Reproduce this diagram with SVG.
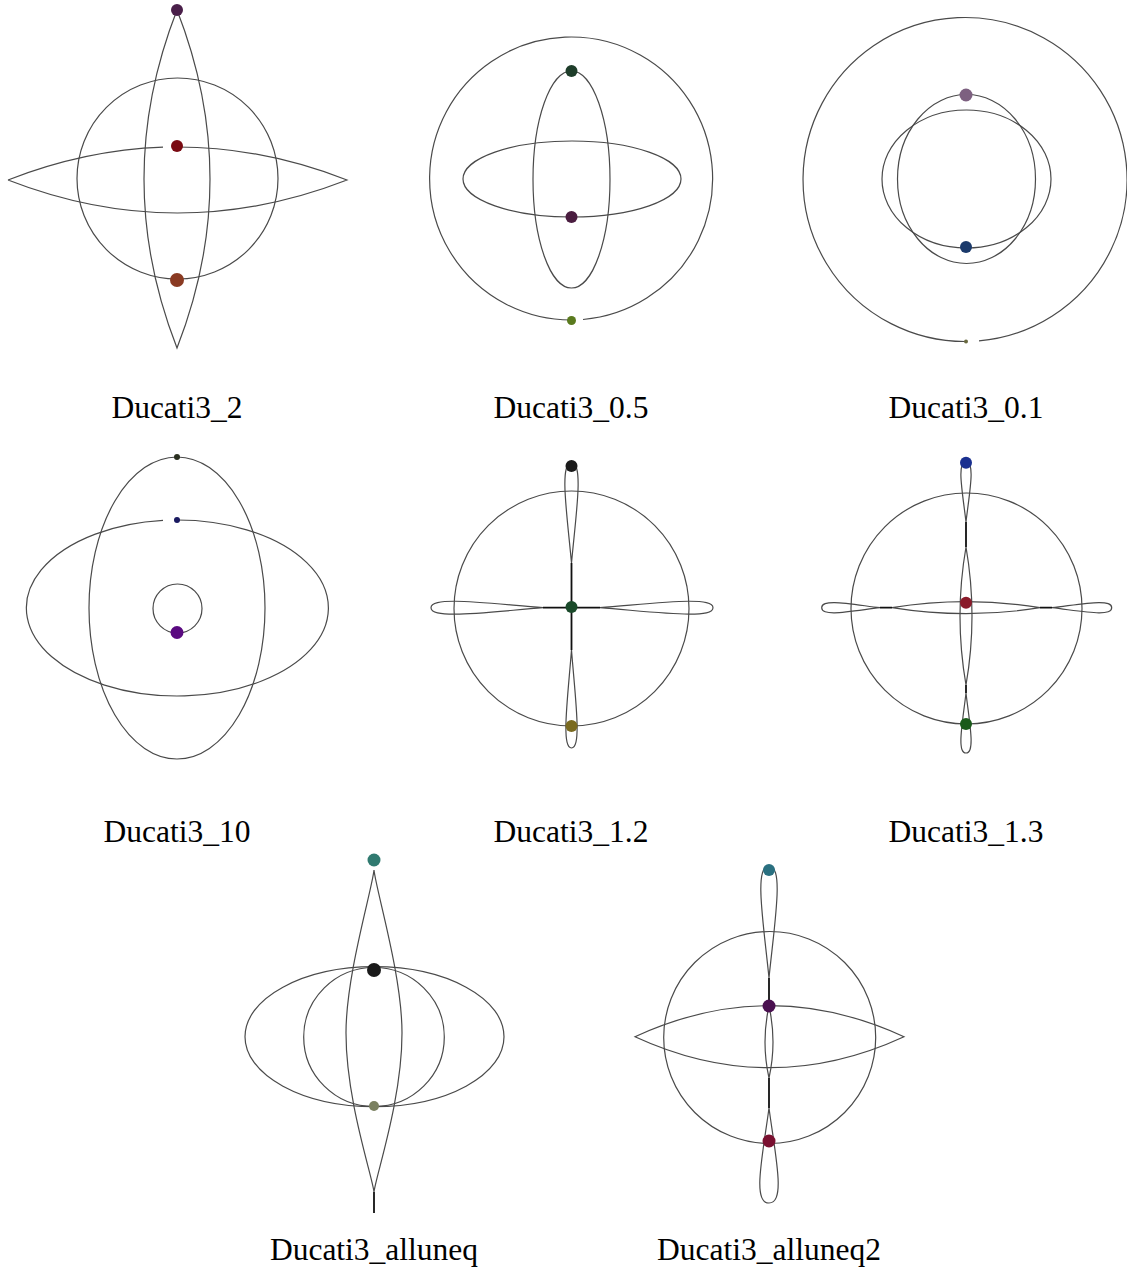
<svg xmlns="http://www.w3.org/2000/svg" width="1127" height="1281" viewBox="0 0 1127 1281">
<style>
.o{fill:none;stroke:#4a4a4a;stroke-width:1.2}
.k{fill:none;stroke:#111;stroke-width:1.8}
.lbl{font-family:"Liberation Serif","DejaVu Serif",serif;font-size:31.5px;fill:#000;text-anchor:middle}
</style>
<rect width="1127" height="1281" fill="#fff"/>

<g id="ducati3_2">
<circle class="o" cx="177.5" cy="178.5" r="100.5"/>
<path class="o" d="M 8 180 Q 85.5 149.8 163 147.2 M 177.5 147 Q 262.25 147 347 180 Q 177.5 246 8 180"/>
<path class="o" d="M 177 10 Q 111 179 177 348 Q 243 179 177 10 Z"/>
<circle cx="177" cy="10" r="6" fill="#4a1f4a"/>
<circle cx="177" cy="146" r="6" fill="#7a0a12"/>
<circle cx="177" cy="280" r="7" fill="#8a3a22"/>
<text class="lbl" x="177" y="418">Ducati3_2</text>
</g>

<g id="ducati3_0.5">
<path class="o" d="M 583 319.5 A 141.5 141.5 0 1 0 571.5 320"/>
<ellipse class="o" cx="571.5" cy="179.5" rx="38.5" ry="108.5"/>
<ellipse class="o" cx="572" cy="179" rx="109" ry="38"/>
<circle cx="571.5" cy="71" r="6" fill="#1e3d2a"/>
<circle cx="571.5" cy="217" r="6" fill="#4a1d40"/>
<circle cx="571.5" cy="320.5" r="4.5" fill="#5a7a1e"/>
<text class="lbl" x="571" y="418">Ducati3_0.5</text>
</g>

<g id="ducati3_0.1">
<path class="o" d="M 979 340.9 A 162 162 0 1 0 966 341.5"/>
<ellipse class="o" cx="966.5" cy="179" rx="69" ry="84.5"/>
<ellipse class="o" cx="966.5" cy="179" rx="84.5" ry="69"/>
<circle cx="966" cy="95" r="6.5" fill="#7d6080"/>
<circle cx="966" cy="247" r="6" fill="#1b3a6b"/>
<circle cx="966" cy="341.5" r="2" fill="#6a6a40"/>
<text class="lbl" x="966" y="418">Ducati3_0.1</text>
</g>

<g id="ducati3_10">
<ellipse class="o" cx="177" cy="608" rx="88" ry="151"/>
<path class="o" d="M 177 520 A 151 88 0 1 1 163 520.4"/>
<circle class="o" cx="177.5" cy="608.5" r="24.5"/>
<circle cx="177" cy="457" r="3" fill="#2a3020"/>
<circle cx="177" cy="520" r="3" fill="#1a1a60"/>
<circle cx="177" cy="632.5" r="6.5" fill="#5a0a80"/>
<text class="lbl" x="177" y="842">Ducati3_10</text>
</g>

<g id="ducati3_1.2">
<circle class="o" cx="571.5" cy="608.5" r="117.5"/>
<path class="o" d="M 571.5 563 C 566.9 513 559.2 463 571.5 463 C 583.8 463 576.1 513 571.5 563 Z"/>
<path class="o" d="M 571.5 650 C 567.65 699 561.05 748 571.5 748 C 581.95 748 575.35 699 571.5 650 Z"/>
<path class="o" d="M 543 607.7 C 487 603.3 431 595.7 431 607.7 C 431 619.7 487 612.1 543 607.7 Z"/>
<path class="o" d="M 600 607.7 C 656.5 603.3 713 595.7 713 607.7 C 713 619.7 656.5 612.1 600 607.7 Z"/>
<path class="k" d="M 571.5 563 V 650 M 543 607.7 H 600"/>
<circle cx="571.5" cy="466" r="6" fill="#1a1a1a"/>
<circle cx="571.5" cy="607" r="6" fill="#1a4a2a"/>
<circle cx="571.5" cy="726" r="6" fill="#7a6a20"/>
<text class="lbl" x="571" y="842">Ducati3_1.2</text>
</g>

<g id="ducati3_1.3">
<circle class="o" cx="966.5" cy="608.5" r="115.5"/>
<path class="o" d="M 966 522 C 962.5 492 956.5 462 966 462 C 975.5 462 969.5 492 966 522 Z"/>
<path class="o" d="M 966 547 Q 954 616 966 685 Q 978 616 966 547 Z"/>
<path class="o" d="M 966 693 C 962.5 723 956.5 753 966 753 C 975.5 753 969.5 723 966 693 Z"/>
<path class="o" d="M 880 607.7 C 851 604.2 821.7 598.2 821.7 607.7 C 821.7 617.2 851 611.2 880 607.7 Z"/>
<path class="o" d="M 892 607.7 Q 966 595.7 1040 607.7 Q 966 619.7 892 607.7 Z"/>
<path class="o" d="M 1052 607.7 C 1082 604.2 1111.7 598.2 1111.7 607.7 C 1111.7 617.2 1082 611.2 1052 607.7 Z"/>
<path class="k" d="M 966 522 V 547 M 966 685 V 693 M 880 607.7 H 892 M 1040 607.7 H 1052"/>
<circle cx="966" cy="462.7" r="6" fill="#1a3090"/>
<circle cx="966" cy="602.7" r="6" fill="#8a1a2a"/>
<circle cx="966" cy="724" r="6" fill="#1a5a1a"/>
<text class="lbl" x="966" y="842">Ducati3_1.3</text>
</g>

<g id="ducati3_alluneq">
<ellipse class="o" cx="374.5" cy="1036.7" rx="129.5" ry="70"/>
<ellipse class="o" cx="374" cy="1037" rx="70.3" ry="69.5"/>
<path class="o" d="M 374 870 C 372 890 346 975 346 1033 C 346 1100 372 1175 374 1192 C 376 1175 402 1100 402 1033 C 402 975 376 890 374 870 Z"/>
<path class="k" d="M 374 1192 V 1213"/>
<circle cx="374" cy="860" r="6.5" fill="#307a70"/>
<circle cx="374" cy="970" r="7" fill="#1a1a1a"/>
<circle cx="374" cy="1106" r="5" fill="#7a8060"/>
<text class="lbl" x="374" y="1260">Ducati3_alluneq</text>
</g>

<g id="ducati3_alluneq2">
<circle class="o" cx="769.7" cy="1037.5" r="106"/>
<path class="o" d="M 635 1036.7 Q 769.5 974.7 904 1036.7 Q 769.5 1098.7 635 1036.7 Z"/>
<path class="o" d="M 769 978 C 763.4 922 753.8 866 769 866 C 784.2 866 774.6 922 769 978 Z"/>
<path class="o" d="M 769 1006 Q 761 1042 769 1078 Q 777 1042 769 1006 Z"/>
<path class="o" d="M 769 1108 C 762.7 1155.5 751.9 1203 769 1203 C 786.1 1203 775.3 1155.5 769 1108 Z"/>
<path class="k" d="M 769 978 V 1006 M 769 1078 V 1108"/>
<circle cx="769" cy="870" r="6" fill="#2a7080"/>
<circle cx="769" cy="1006" r="6.5" fill="#4a1050"/>
<circle cx="769" cy="1141" r="6.5" fill="#7a1030"/>
<text class="lbl" x="769" y="1260">Ducati3_alluneq2</text>
</g>
</svg>
